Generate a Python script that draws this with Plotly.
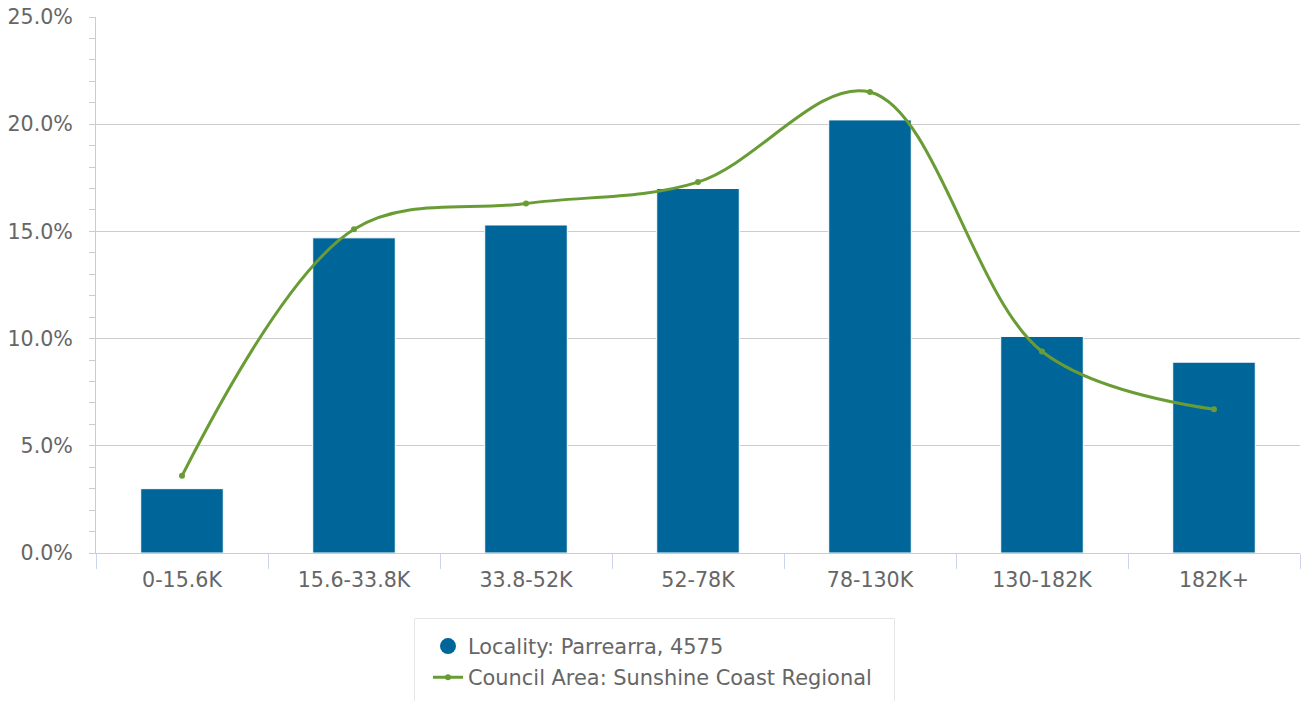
import plotly.graph_objects as go

categories = ["0-15.6K", "15.6-33.8K", "33.8-52K", "52-78K", "78-130K", "130-182K", "182K+"]
locality_values = [3.0, 14.7, 15.3, 17.0, 20.2, 10.1, 8.9]
council_values = [3.6, 15.1, 16.3, 17.3, 21.5, 9.4, 6.7]
y_ticks = [0, 5, 10, 15, 20, 25]
y_tick_labels = ["0.0%", "5.0%", "10.0%", "15.0%", "20.0%", "25.0%"]

BLUE = "#006699"
GREEN = "#6a9c35"
FONT = "DejaVu Sans"
FS = 20.6

PL, PR, PT, PB = 96, 1300, 17, 553  # plot area in pixels
W, H = 1301, 701


def px(xs):
    return (xs - PL) / (PR - PL)


def py(ys):
    return (PB - ys) / (PB - PT)


fig = go.Figure()
fig.add_trace(go.Bar(
    x=categories, y=locality_values,
    marker=dict(color=BLUE, line=dict(width=1, color="#ffffff")),
    showlegend=False, name="Locality: Parrearra, 4575",
))
fig.add_trace(go.Scatter(
    x=[None], y=[None], mode="markers", name="Locality: Parrearra, 4575",
    legendgroup="a",
    marker=dict(color=BLUE, size=19, symbol="circle"),
))
fig.add_trace(go.Scatter(
    x=categories, y=council_values, mode="lines+markers",
    name="Council Area: Sunshine Coast Regional", legendgroup="b",
    line=dict(color=GREEN, width=3, shape="spline", smoothing=1.0),
    marker=dict(color=GREEN, size=6),
))

bx0, bx1, by0, by1 = px(414.5), px(894.5), py(618.5), py(705)
fig.update_layout(
    width=W, height=H,
    margin=dict(l=PL, r=W - PR, t=PT, b=H - PB),
    paper_bgcolor="white", plot_bgcolor="white",
    bargap=0.52,
    font=dict(family=FONT, size=FS, color="#666666"),
    xaxis=dict(
        type="category", showgrid=False, showline=True, linecolor="#cccccc", linewidth=1,
        ticks="outside", tickson="boundaries", ticklen=15, tickcolor="#ccd6eb",
        tickfont=dict(size=FS, color="#666666"), tickangle=0, automargin=False,
        ticklabelstandoff=8,
    ),
    yaxis=dict(
        range=[0, 25], tickvals=y_ticks, ticktext=y_tick_labels,
        showgrid=True, gridcolor="#cccccc", gridwidth=1,
        showline=True, linecolor="#cccccc", linewidth=1,
        ticks="outside", ticklen=6, tickcolor="#cccccc",
        minor=dict(dtick=1, ticks="outside", ticklen=6, tickcolor="#cccccc", showgrid=False),
        zeroline=False, automargin=False, ticklabeloverflow="allow",
        ticklabelstandoff=12,
        tickfont=dict(size=FS, color="#666666"),
    ),
    legend=dict(
        x=px(428), y=py(626),
        xanchor="left", yanchor="top",
        borderwidth=0, bgcolor="rgba(0,0,0,0)",
        traceorder="grouped", tracegroupgap=1,
        font=dict(size=20.9, color="#666666"),
    ),
    shapes=[dict(
        type="path", xref="paper", yref="paper",
        path=f"M {bx0},{by1} L {bx0},{by0} L {bx1},{by0} L {bx1},{by1}",
        line=dict(color="#e6e6e6", width=1), layer="below",
    )],
)

fig.write_html(
    "out.html",
    config={"displayModeBar": False},
    post_script="document.body.style.margin='0';document.body.style.overflow='hidden';",
)
